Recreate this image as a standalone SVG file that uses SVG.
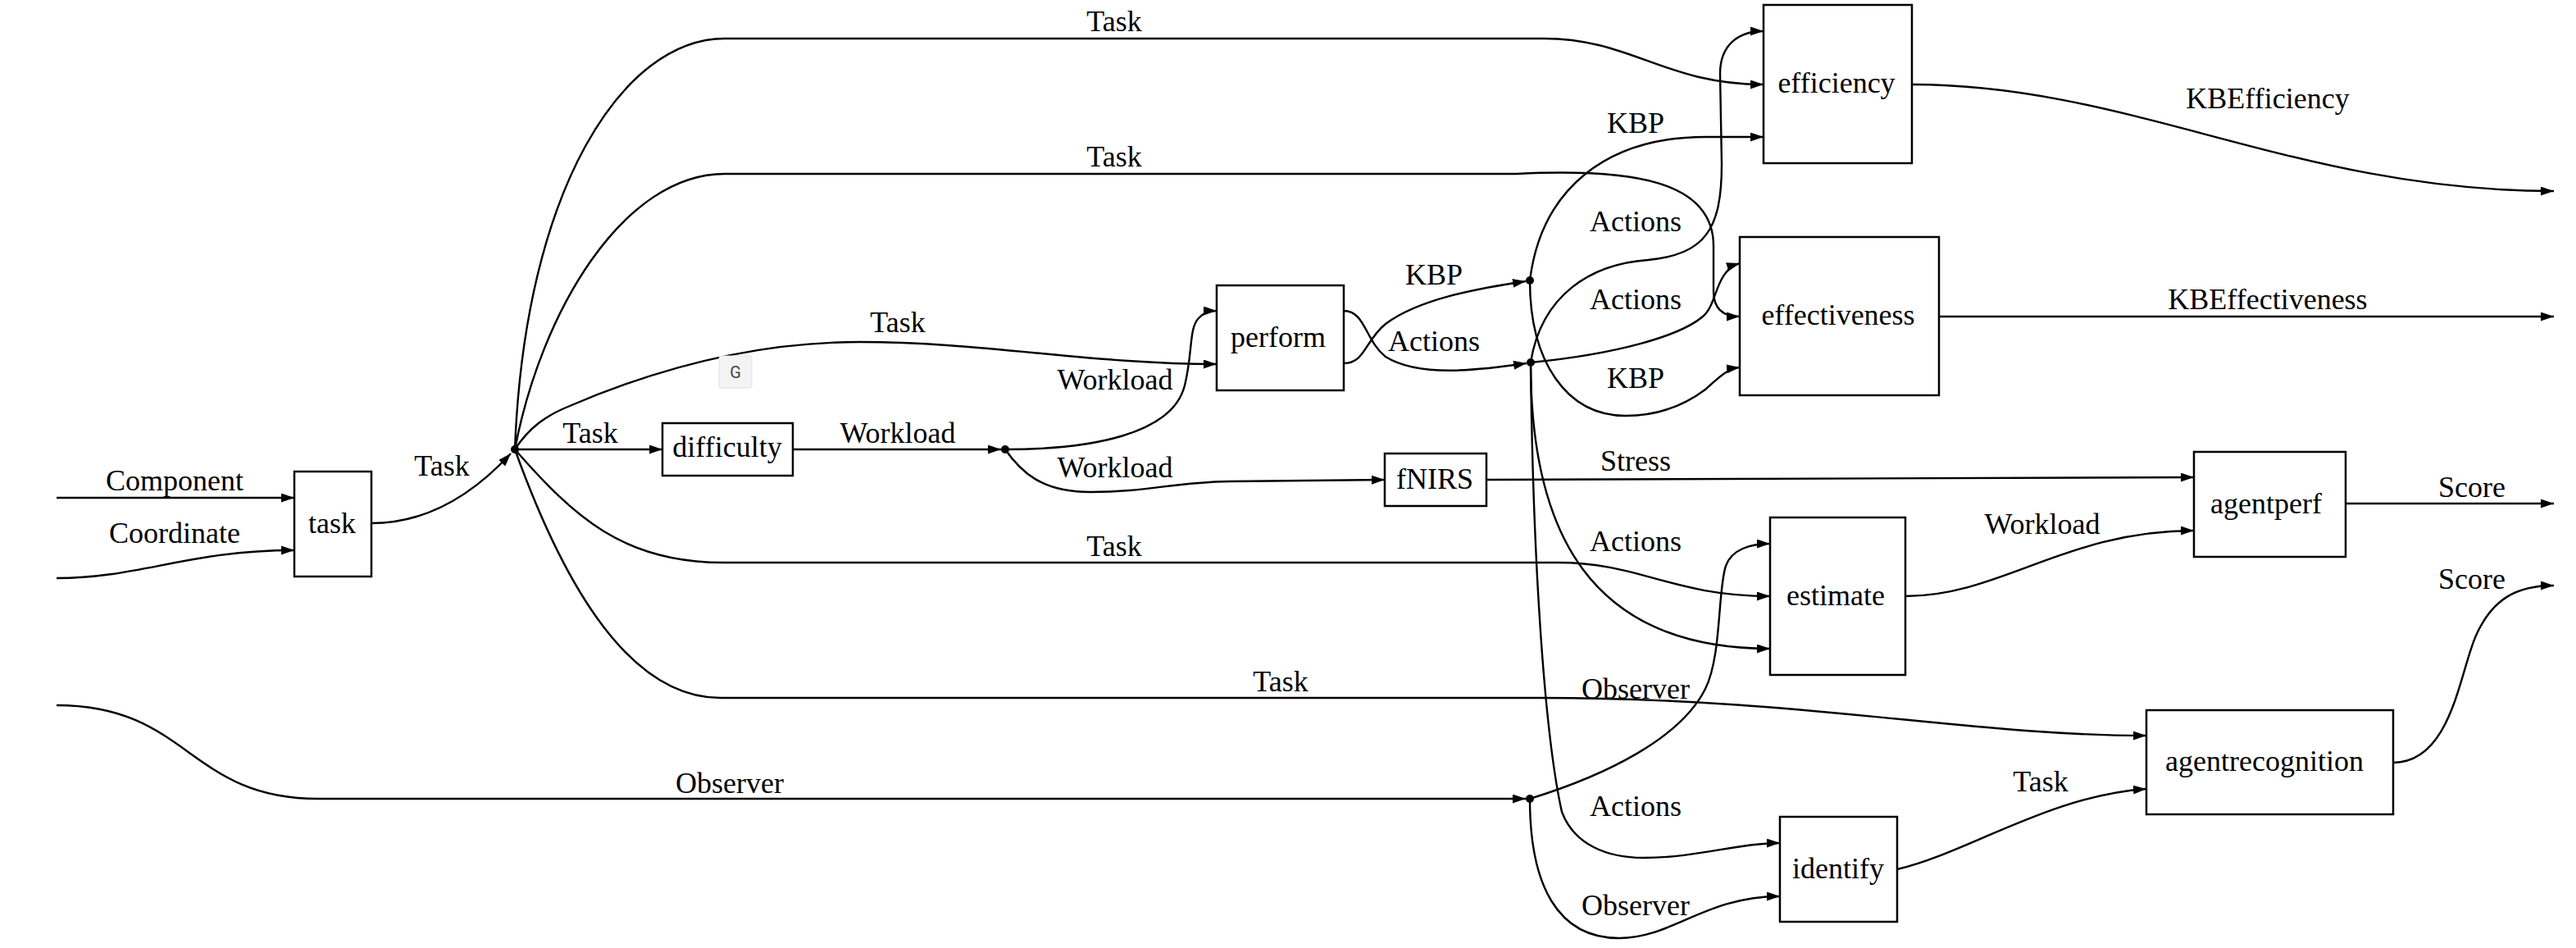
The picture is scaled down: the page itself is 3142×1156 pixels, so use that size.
<svg xmlns="http://www.w3.org/2000/svg" width="3142" height="1156" viewBox="0 0 3142 1156">
<defs>
<marker id="arr" viewBox="0 0 16 11" refX="16" refY="5.5" markerWidth="16" markerHeight="11" markerUnits="userSpaceOnUse" orient="auto"><path d="M0,0 L16,5.5 L0,11 z" fill="#000"/></marker>
</defs>
<style>
.n rect{fill:#fff;stroke:#000;stroke-width:2.5}
text{font-family:"Liberation Serif","Times New Roman",serif;font-size:36px;text-anchor:middle;fill:#000}
.e path{fill:none;stroke:#000;stroke-width:2.4;marker-end:url(#arr)}
.j circle{fill:#000}
.g text{font-family:Roboto,"Liberation Sans",sans-serif;font-size:20px;fill:#444}
</style>
<rect width="3142" height="1156" fill="#fff"/>
<g id="connectors" class="e">
<path d="M69,607 L359,607"/>
<path d="M69,705 C170,705 230,671 359,671"/>
<path d="M453,638 C520,638 575,605 623,553"/>
<path d="M628,548 L808,548"/>
<path d="M967,548 L1221,548"/>
<path d="M628,548 C645,522 665,507 695,495 C800,450 920,417 1048,417 C1200,417 1330,444 1484,444"/>
<path d="M1226,548 C1330,548 1430,530 1445,470 C1455,430 1450,400 1462,388 C1468,381 1476,379 1484,379"/>
<path d="M1226,548 C1245,575 1270,600 1330,600 C1400,600 1430,588 1500,587 L1689,585"/>
<path d="M1639,443 C1665,443 1665,415 1690,395 C1730,365 1800,352 1861,343"/>
<path d="M1639,379 C1665,379 1665,415 1690,435 C1730,460 1800,452 1862,443"/>
<path d="M628,548 C640,230 760,47 884,47 L1883,47 C1990,47 2030,103 2151,103"/>
<path d="M628,548 C660,380 760,212 884,212 L1850,212 C1990,205 2090,220 2090,300 L2090,355 C2090,375 2100,386 2122,386"/>
<path d="M628,548 C700,630 760,686 882,686 L1900,686 C2000,686 2040,727 2159,727"/>
<path d="M628,548 C690,720 770,851 879,851 L1880,851 C2200,851 2400,897 2618,897"/>
<path d="M69,860 C230,860 230,974 388,974 L1861,974"/>
<path d="M1866,342 C1880,230 1960,167 2080,167 L2151,167"/>
<path d="M1866,342 C1866,440 1910,507 1983,507 C2030,507 2060,490 2080,475 C2095,462 2105,450 2122,448"/>
<path d="M1867,442 C1880,360 1940,322 2010,317 C2080,310 2100,280 2100,200 L2098,90 C2098,55 2120,38 2151,38"/>
<path d="M1867,442 C1970,432 2050,410 2078,385 C2095,370 2092,330 2122,321"/>
<path d="M1867,442 C1867,650 1940,791 2159,791"/>
<path d="M1867,442 C1870,700 1885,900 1905,990 C1920,1030 1960,1046 2005,1046 C2070,1046 2120,1028 2171,1028"/>
<path d="M1866,974 C1960,945 2050,900 2080,840 C2100,800 2095,720 2105,690 C2112,670 2135,663 2159,663"/>
<path d="M1866,974 C1866,1080 1900,1144 1975,1144 C2040,1144 2080,1093 2171,1093"/>
<path d="M1813,585 L2676,582"/>
<path d="M2324,727 C2440,727 2520,647 2676,647"/>
<path d="M2314,1060 C2400,1040 2500,970 2618,962"/>
<path d="M2332,103 C2600,103 2800,233 3115,233"/>
<path d="M2365,386 L3115,386"/>
<path d="M2861,614 L3115,614"/>
<path d="M2919,930 C2990,930 3000,820 3020,775 C3040,730 3070,714 3115,714"/>
<text x="213" y="598">Component</text>
<text x="213" y="662">Coordinate</text>
<text x="539" y="580">Task</text>
<text x="1359" y="38">Task</text>
<text x="1359" y="203">Task</text>
<text x="1095" y="405">Task</text>
<text x="720" y="540">Task</text>
<text x="1095" y="540">Workload</text>
<text x="1360" y="475">Workload</text>
<text x="1360" y="582">Workload</text>
<text x="1749" y="347">KBP</text>
<text x="1749" y="428">Actions</text>
<text x="1359" y="678">Task</text>
<text x="1562" y="843">Task</text>
<text x="890" y="967">Observer</text>
<text x="1995" y="162">KBP</text>
<text x="1995" y="282">Actions</text>
<text x="1995" y="377">Actions</text>
<text x="1995" y="473">KBP</text>
<text x="1995" y="574">Stress</text>
<text x="1995" y="672">Actions</text>
<text x="1995" y="852">Observer</text>
<text x="1995" y="995">Actions</text>
<text x="1995" y="1116">Observer</text>
<text x="2766" y="132">KBEfficiency</text>
<text x="2766" y="377">KBEffectiveness</text>
<text x="2491" y="651">Workload</text>
<text x="2489" y="965">Task</text>
<text x="3015" y="606">Score</text>
<text x="3015" y="718">Score</text>
</g>
<g id="junctions" class="j">
<circle cx="628" cy="548" r="5"/>
<circle cx="1226" cy="548" r="5"/>
<circle cx="1866" cy="342" r="5"/>
<circle cx="1867" cy="442" r="5"/>
<circle cx="1866" cy="974" r="5"/>
</g>
<g id="task" class="n"><rect x="359" y="575" width="94" height="128"/><text x="405" y="650">task</text></g>
<g id="difficulty" class="n"><rect x="808" y="516" width="159" height="64"/><text x="887" y="557">difficulty</text></g>
<g id="perform" class="n"><rect x="1484" y="348" width="155" height="128"/><text x="1559" y="423">perform</text></g>
<g id="fNIRS" class="n"><rect x="1689" y="553" width="124" height="64"/><text x="1750" y="596">fNIRS</text></g>
<g id="efficiency" class="n"><rect x="2151" y="6" width="181" height="193"/><text x="2240" y="113">efficiency</text></g>
<g id="effectiveness" class="n"><rect x="2122" y="289" width="243" height="193"/><text x="2242" y="396">effectiveness</text></g>
<g id="estimate" class="n"><rect x="2159" y="631" width="165" height="192"/><text x="2239" y="738">estimate</text></g>
<g id="agentperf" class="n"><rect x="2676" y="551" width="185" height="128"/><text x="2764" y="626">agentperf</text></g>
<g id="agentrecognition" class="n"><rect x="2618" y="866" width="301" height="127"/><text x="2762" y="940">agentrecognition</text></g>
<g id="identify" class="n"><rect x="2171" y="996" width="143" height="128"/><text x="2242" y="1071">identify</text></g>
<g id="overlay" class="g"><rect x="877" y="434" width="40" height="39" rx="3" fill="#f4f4f4" stroke="#e0e0e0" stroke-width="1"/><text x="897" y="461">G</text></g>
</svg>
